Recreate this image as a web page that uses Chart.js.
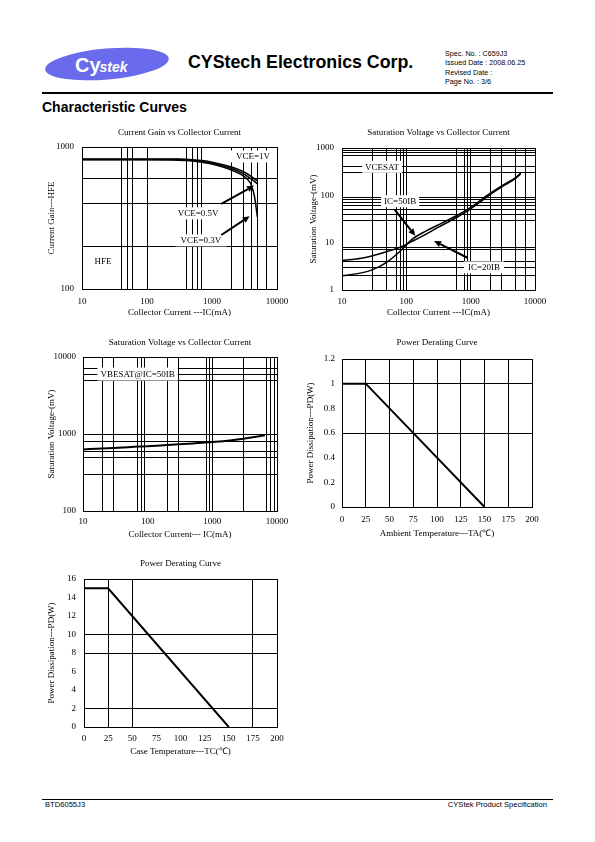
<!DOCTYPE html>
<html><head><meta charset="utf-8">
<script src="https://cdn.jsdelivr.net/npm/chart.js@4.4.0/dist/chart.umd.min.js"></script>
<style>
html,body{margin:0;padding:0;background:#fff;}
body{width:595px;height:842px;position:relative;overflow:hidden;font-family:"Liberation Sans",Arial,sans-serif;color:#000;}
.abs{position:absolute;white-space:nowrap;}
canvas{position:absolute;}
</style></head><body>

<svg class="abs" style="left:40px;top:42px" width="140" height="44">
  <ellipse cx="67" cy="22" rx="62" ry="15.5" fill="#6a6aec" transform="rotate(-5 67 22)"/>
  <text x="35" y="30" fill="#fff" font-family="Liberation Sans" font-weight="bold" font-size="20">Cy<tspan font-size="14" font-style="italic" dx="-1">stek</tspan></text>
</svg>
<div class="abs" style="left:188px;top:52px;font:bold 17.8px 'Liberation Sans';">CYStech Electronics Corp.</div>
<div class="abs" style="left:445px;top:49px;font:7.2px/9.3px 'Liberation Sans';">Spec. No. : C659J3<br>Issued Date : 2008.06.25<br>Revised Date :<br>Page No. : 3/6</div>
<div class="abs" style="left:42px;top:92px;width:511px;height:1.5px;background:#000"></div>
<div class="abs" style="left:42px;top:99px;font:bold 14px/16px 'Liberation Sans';">Characteristic Curves</div>

<canvas id="c1"></canvas>
<canvas id="c2"></canvas>
<canvas id="c3"></canvas>
<canvas id="c4"></canvas>
<canvas id="c5"></canvas>

<div class="abs" style="left:42px;top:799px;width:511px;height:1px;background:#000"></div>
<div class="abs" style="left:45px;top:801px;font:7.6px/8px 'Liberation Sans';">BTD6055J3</div>
<div class="abs" style="right:48px;top:801px;font:7.6px/8px 'Liberation Sans';">CYStek Product Specification</div>

<script>
// ---------- DATA ----------
// Chart 1: Current Gain vs Collector Current
const hfeIC = [10, 20, 50, 100, 300, 500, 700, 1000, 2000, 3000, 4000, 5000];
const hfeVCE1V = [824, 824, 824, 824, 822, 814, 802, 782, 722, 672, 622, 577];
const hfeVCE05V = [818, 818, 818, 818, 815, 806, 792, 770, 705, 650, 597, 550];
const hfeIC03 = [10, 20, 50, 100, 300, 500, 700, 1000, 2000, 3000, 3500, 4000, 4500, 5000];
const hfeVCE03V = [812, 812, 812, 812, 808, 798, 782, 758, 688, 628, 593, 543, 450, 320];
const hfeXLabels = [10, 100, 1000, 10000];
const hfeXGrid = [40, 50, 60, 100, 400, 500, 600, 700, 2000, 3000, 4000, 5000, 7000];
const hfeYLabels = [100, 1000];
const hfeYGrid = [200, 400, 600];

// Chart 2: VCE(sat) vs Collector Current
const vceIC = [10, 20, 30, 50, 80, 120, 200, 300, 600, 1000, 2000, 3000, 5000, 6000];
const vceCurveA = [4.2, 4.7, 5.3, 6.5, 8.0, 10.5, 15, 20.5, 34, 52, 104, 150, 228, 285];
const vceCurveB = [2.0, 2.3, 2.7, 3.9, 6.6, 11.5, 17.5, 23, 37, 56, 110, 157, 238, 295];
const vceXLabels = [10, 100, 1000, 10000];
const vceXGrid = [30, 50, 70, 80, 90, 100, 600, 800, 900, 1000, 2000, 3000, 5000, 7000];
const vceYLabels = [1, 10, 100, 1000];
const vceYGrid = [2, 3, 4, 7, 8, 30, 40, 50, 60, 70, 80, 90, 300, 400, 700, 800, 900];

// Chart 3: VBE(sat) vs Collector Current
const vbeIC = [10, 20, 50, 100, 200, 300, 500, 1000, 2000, 3000, 6500];
const vbeSat = [630, 650, 675, 695, 720, 735, 755, 785, 830, 870, 960];
const vbeXLabels = [10, 100, 1000, 10000];
const vbeXGrid = [20, 30, 70, 80, 90, 200, 300, 800, 900, 1000, 3000, 7000, 8000, 9000];
const vbeYLabels = [100, 1000, 10000];
const vbeYGrid = [300, 500, 600, 800, 1000, 5000, 6000, 7000];

// Chart 4: Power derating vs ambient temperature
const taTemp = [0, 25, 150];
const taPower = [1, 1, 0];
const taXTicks = [0, 25, 50, 75, 100, 125, 150, 175, 200];
const taXGrid = [25, 50, 75, 100, 125, 150, 175];
const taYTicks = [0, 0.2, 0.4, 0.6, 0.8, 1, 1.2];
const taYGrid = [0.6, 1];

// Chart 5: Power derating vs case temperature
const tcTemp = [0, 25, 150];
const tcPower = [15, 15, 0];
const tcXTicks = [0, 25, 50, 75, 100, 125, 150, 175, 200];
const tcXGrid = [25, 50, 175];
const tcYTicks = [0, 2, 4, 6, 8, 10, 12, 14, 16];
const tcYGrid = [2, 8, 10];

// ---------- HELPERS ----------
const SERIF = '"Liberation Serif", "Times New Roman", serif';
const FONT = {family: SERIF, size: 9};

function pts(xs, ys) { return xs.map((x, i) => ({x: x, y: ys[i]})); }

const framePlugin = {
  id: 'frame',
  afterDatasetsDraw(chart) {
    const {ctx, chartArea: a} = chart;
    ctx.save();
    ctx.strokeStyle = '#000'; ctx.lineWidth = 1;
    const l = Math.round(a.left) + 0.5, t = Math.round(a.top) + 0.5;
    const r = Math.round(a.right) + 0.5, b = Math.round(a.bottom) + 0.5;
    ctx.strokeRect(l, t, r - l, b - t);
    ctx.restore();
  }
};

function notesPlugin(items) {
  return {
    id: 'notes',
    afterDatasetsDraw(chart) {
      const xs = chart.scales.x, ys = chart.scales.y, ctx = chart.ctx;
      ctx.save();
      items.forEach(it => {
        if (it.arrow) {
          const x1 = xs.getPixelForValue(it.arrow[0]), y1 = ys.getPixelForValue(it.arrow[1]);
          const x2 = xs.getPixelForValue(it.arrow[2]), y2 = ys.getPixelForValue(it.arrow[3]);
          const ang = Math.atan2(y2 - y1, x2 - x1), hl = 7, hw = 3.2;
          const bx = x2 - hl * Math.cos(ang), by = y2 - hl * Math.sin(ang);
          ctx.strokeStyle = '#000'; ctx.fillStyle = '#000'; ctx.lineWidth = 2;
          ctx.beginPath(); ctx.moveTo(x1, y1); ctx.lineTo(bx, by); ctx.stroke();
          ctx.beginPath(); ctx.moveTo(x2, y2);
          ctx.lineTo(bx + hw * Math.sin(ang), by - hw * Math.cos(ang));
          ctx.lineTo(bx - hw * Math.sin(ang), by + hw * Math.cos(ang));
          ctx.closePath(); ctx.fill();
        } else {
          const x = xs.getPixelForValue(it.x), y = ys.getPixelForValue(it.y);
          ctx.font = '9px ' + SERIF;
          const w = ctx.measureText(it.text).width;
          const pad = it.pad == null ? 4 : it.pad;
          ctx.fillStyle = '#fff';
          ctx.fillRect(x - w / 2 - pad, y - (it.h || 12) / 2, w + 2 * pad, it.h || 12);
          ctx.fillStyle = '#000'; ctx.textAlign = 'center'; ctx.textBaseline = 'middle';
          ctx.fillText(it.text, x, y + 0.5);
        }
      });
      ctx.restore();
    }
  };
}

function axis(opt) {
  const isX = opt.axis === 'x';
  const labelSet = opt.labels, gridSet = opt.grid;
  const all = Array.from(new Set(labelSet.concat(gridSet))).sort((a, b) => a - b);
  return {
    type: opt.type, min: opt.min, max: opt.max, position: isX ? 'bottom' : 'left',
    afterBuildTicks: s => { s.ticks = all.map(v => ({value: v, major: false})); },
    afterFit: s => {
      if (isX) s.height = opt.size; else s.width = opt.size;
      s.paddingLeft = 0; s.paddingRight = 0; s.paddingTop = 0; s.paddingBottom = 0;
    },
    ticks: {
      autoSkip: false, maxRotation: 0, minRotation: 0, padding: opt.tickPad, color: '#000', font: FONT,
      callback: v => labelSet.indexOf(v) >= 0 ? String(v) : ''
    },
    grid: {
      drawTicks: false, lineWidth: 1,
      color: c => (c.tick && gridSet.indexOf(c.tick.value) >= 0) ? '#000' : 'rgba(0,0,0,0)'
    },
    border: {display: true, color: '#000', width: 1},
    title: {display: true, text: opt.title, color: '#000', font: {family: SERIF, size: 9, lineHeight: 1},
            padding: isX ? {top: 0, bottom: opt.titlePad} : {top: opt.titlePad, bottom: 0}}
  };
}

function makeChart(id, g, datasets, xOpt, yOpt, title, notes) {
  const c = document.getElementById(id);
  c.style.left = g.left + 'px'; c.style.top = g.top + 'px';
  c.width = g.w; c.height = g.h; c.style.width = g.w + 'px'; c.style.height = g.h + 'px';
  return new Chart(c, {
    type: 'line',
    data: {datasets: datasets},
    options: {
      responsive: false, animation: false, devicePixelRatio: 1,
      layout: {padding: {left: 0, right: g.rp, top: 0, bottom: 0}},
      plugins: {
        legend: {display: false}, tooltip: {enabled: false},
        title: {display: true, text: title, fullSize: false, color: '#000',
                font: {family: SERIF, size: 9, weight: 'normal', lineHeight: 1},
                padding: {top: g.tpt, bottom: g.tpb}}
      },
      elements: {point: {radius: 0}},
      scales: {x: axis(xOpt), y: axis(yOpt)}
    },
    plugins: [framePlugin, notesPlugin(notes || [])]
  });
}

function ds(data, w, smooth) {
  return {data: data, borderColor: '#000', borderWidth: w, fill: false, pointRadius: 0,
          cubicInterpolationMode: smooth ? 'monotone' : 'default', tension: 0};
}

// ---------- CHART 1 ----------
makeChart('c1', {left: 46, top: 127, w: 245, h: 192, rp: 14, tpt: 1, tpb: 10},
  [ds(pts(hfeIC, hfeVCE1V), 1.5, true), ds(pts(hfeIC, hfeVCE05V), 1.5, true), ds(pts(hfeIC03, hfeVCE03V), 1.5, true)],
  {axis: 'x', type: 'logarithmic', min: 10, max: 10000, labels: hfeXLabels, grid: hfeXGrid, size: 30, tickPad: 7, title: 'Collector Current ---IC(mA)', titlePad: 2},
  {axis: 'y', type: 'logarithmic', min: 100, max: 1000, labels: hfeYLabels, grid: hfeYGrid, size: 36, tickPad: 8, title: 'Current Gain---HFE', titlePad: 1},
  'Current Gain vs Collector Current',
  [
    {text: 'VCE=1V', x: 4270, y: 858, pad: 6},
    {text: 'VCE=0.5V', x: 610, y: 341, pad: 5},
    {text: 'VCE=0.3V', x: 676, y: 220, pad: 5},
    {text: 'HFE', x: 21, y: 157, pad: 3},
    {arrow: [1390, 397, 4430, 535]},
    {arrow: [1390, 240, 3800, 325]}
  ]);

// ---------- CHART 2 ----------
makeChart('c2', {left: 308, top: 127, w: 241, h: 193, rp: 14, tpt: 1, tpb: 11},
  [ds(pts(vceIC, vceCurveA), 1.5, true), ds(pts(vceIC, vceCurveB), 1.5, true)],
  {axis: 'x', type: 'logarithmic', min: 10, max: 10000, labels: vceXLabels, grid: vceXGrid, size: 30, tickPad: 6.5, title: 'Collector Current ---IC(mA)', titlePad: 3},
  {axis: 'y', type: 'logarithmic', min: 1, max: 1000, labels: vceYLabels, grid: vceYGrid, size: 34, tickPad: 8, title: 'Saturation Voltage-(mV)', titlePad: 1},
  'Saturation Voltage vs Collector Current',
  [
    {text: 'VCESAT', x: 42, y: 400, pad: 3},
    {text: 'IC=50IB', x: 80, y: 75, pad: 3},
    {text: 'IC=20IB', x: 1615, y: 3, pad: 4},
    {arrow: [66, 49.7, 138, 14]},
    {arrow: [890, 4.8, 270, 10.8]}
  ]);

// ---------- CHART 3 ----------
makeChart('c3', {left: 46, top: 337, w: 245, h: 204, rp: 14, tpt: 1, tpb: 10},
  [ds(pts(vbeIC, vbeSat), 2, true)],
  {axis: 'x', type: 'logarithmic', min: 10, max: 10000, labels: vbeXLabels, grid: vbeXGrid, size: 30, tickPad: 5.6, title: 'Collector Current--- IC(mA)', titlePad: 2},
  {axis: 'y', type: 'logarithmic', min: 100, max: 10000, labels: vbeYLabels, grid: vbeYGrid, size: 37, tickPad: 7, title: 'Saturation Voltage-(mV)', titlePad: 1},
  'Saturation Voltage vs Collector Current',
  [
    {text: 'VBESAT@IC=50IB', x: 70, y: 6000, pad: 3, h: 13}
  ]);

// ---------- CHART 4 ----------
makeChart('c4', {left: 305, top: 338, w: 241, h: 202, rp: 14, tpt: 0.5, tpb: 11.5},
  [ds(pts(taTemp, taPower), 2, false)],
  {axis: 'x', type: 'linear', min: 0, max: 200, labels: taXTicks, grid: taXGrid, size: 33, tickPad: 7.6, title: 'Ambient Temperature---TA(℃)', titlePad: 1.5},
  {axis: 'y', type: 'linear', min: 0, max: 1.2, labels: taYTicks, grid: taYGrid, size: 37, tickPad: 7, title: 'Power Dissipation---PD(W)', titlePad: 1},
  'Power Derating Curve', []);

// ---------- CHART 5 ----------
makeChart('c5', {left: 46, top: 558, w: 245, h: 199, rp: 14, tpt: 0.8, tpb: 11.2},
  [ds(pts(tcTemp, tcPower), 2, false)],
  {axis: 'x', type: 'linear', min: 0, max: 200, labels: tcXTicks, grid: tcXGrid, size: 30, tickPad: 6.6, title: 'Case Temperature---TC(℃)', titlePad: 0.5},
  {axis: 'y', type: 'linear', min: 0, max: 16, labels: tcYTicks, grid: tcYGrid, size: 38, tickPad: 8, title: 'Power Dissipation---PD(W)', titlePad: 1},
  'Power Derating Curve', []);
</script>
</body></html>
